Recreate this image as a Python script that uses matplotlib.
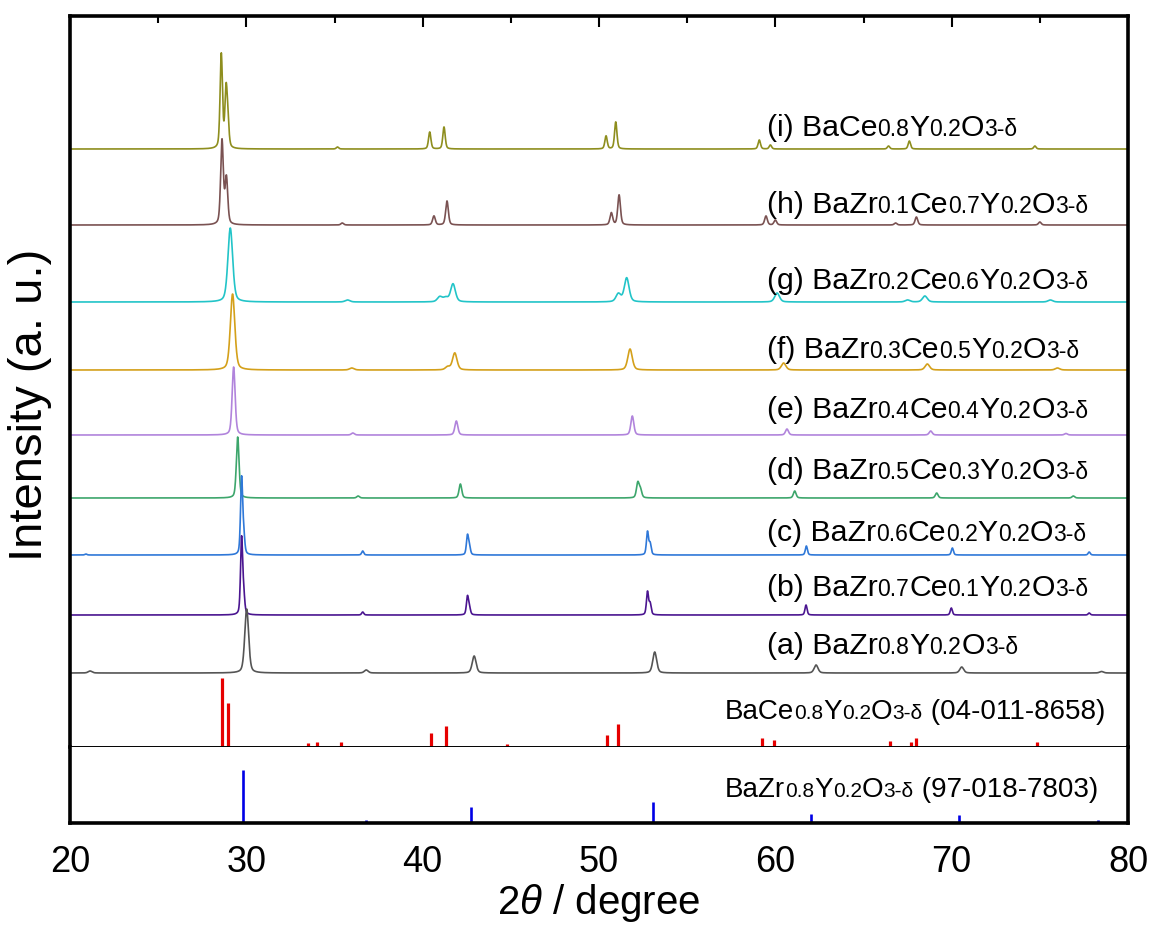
import numpy as np
import matplotlib
matplotlib.use('Agg')
import matplotlib.pyplot as plt
from matplotlib.offsetbox import TextArea, HPacker, AnnotationBbox

plt.rcParams['font.family'] = ['Liberation Sans', 'DejaVu Sans']
plt.rcParams['mathtext.fontset'] = 'custom'
plt.rcParams['mathtext.it'] = 'Liberation Sans:italic'
plt.rcParams['mathtext.rm'] = 'Liberation Sans'

# sample names, split into (text, small) pieces
sample_labels = [
    [('(i) BaCe', 0), ('0.8', 1), ('Y', 0), ('0.2', 1), ('O', 0), ('3-δ', 1)],
    [('(h) BaZr', 0), ('0.1', 1), ('Ce', 0), ('0.7', 1), ('Y', 0), ('0.2', 1), ('O', 0), ('3-δ', 1)],
    [('(g) BaZr', 0), ('0.2', 1), ('Ce', 0), ('0.6', 1), ('Y', 0), ('0.2', 1), ('O', 0), ('3-δ', 1)],
    [('(f) BaZr', 0), ('0.3', 1), ('Ce', 0), ('0.5', 1), ('Y', 0), ('0.2', 1), ('O', 0), ('3-δ', 1)],
    [('(e) BaZr', 0), ('0.4', 1), ('Ce', 0), ('0.4', 1), ('Y', 0), ('0.2', 1), ('O', 0), ('3-δ', 1)],
    [('(d) BaZr', 0), ('0.5', 1), ('Ce', 0), ('0.3', 1), ('Y', 0), ('0.2', 1), ('O', 0), ('3-δ', 1)],
    [('(c) BaZr', 0), ('0.6', 1), ('Ce', 0), ('0.2', 1), ('Y', 0), ('0.2', 1), ('O', 0), ('3-δ', 1)],
    [('(b) BaZr', 0), ('0.7', 1), ('Ce', 0), ('0.1', 1), ('Y', 0), ('0.2', 1), ('O', 0), ('3-δ', 1)],
    [('(a) BaZr', 0), ('0.8', 1), ('Y', 0), ('0.2', 1), ('O', 0), ('3-δ', 1)],
]
colors = ['#8e8e1e', '#7a5252', '#22c4c8', '#d4a01a', '#b184dc',
          '#3da66c', '#2f78d8', '#4a1590', '#555555']

# peak lists: (2theta, height)
peaks_i = [(28.58, 94), (28.85, 55), (28.95, 22), (35.17, 2), (40.40, 17), (41.21, 22),
           (50.40, 13), (50.95, 27), (59.09, 9), (59.72, 4), (66.42, 3), (67.60, 8), (74.72, 3)]
peaks_h = [(28.62, 84), (28.87, 46), (35.44, 2), (40.64, 9), (41.38, 24), (50.70, 12),
           (51.14, 30), (59.47, 9), (60.0, 5), (66.82, 2), (68.0, 8), (75.0, 3)]
peaks_g = [(29.09, 74), (35.74, 2), (40.97, 5), (41.3, 4), (41.72, 18), (51.1, 8),
           (51.57, 24), (60.1, 9), (67.5, 2), (68.48, 6), (75.6, 2)]
peaks_f = [(29.22, 76), (35.98, 2), (41.42, 3), (41.82, 17), (51.76, 21), (60.47, 7),
           (68.62, 6), (76.0, 2)]
peaks_e = [(29.28, 68), (36.04, 2), (41.91, 14), (51.89, 19), (60.66, 6), (68.81, 4),
           (76.48, 1.5)]
peaks_d = [(29.51, 61), (36.34, 2), (42.14, 14), (52.2, 15), (52.35, 8), (61.1, 7),
           (69.15, 5), (76.9, 2)]
peaks_c = [(20.9, 1), (29.73, 76), (29.85, 18), (36.6, 4), (42.54, 19), (42.65, 8),
           (52.75, 23), (52.9, 11), (61.76, 9), (70.04, 7), (77.8, 3)]
peaks_b = [(29.73, 76), (29.85, 18), (36.6, 3), (42.54, 18), (42.65, 7), (52.75, 23),
           (52.9, 11), (61.74, 10), (69.98, 7), (77.8, 2)]
peaks_a = [(21.14, 2), (30.02, 64), (36.8, 3), (42.92, 17), (53.16, 21), (62.31, 8),
           (70.57, 6), (78.5, 1.5)]
all_peaks = [peaks_i, peaks_h, peaks_g, peaks_f, peaks_e, peaks_d, peaks_c, peaks_b, peaks_a]
hwhm = [0.08, 0.09, 0.16, 0.15, 0.1, 0.09, 0.07, 0.07, 0.13]
offsets = [598, 522, 445, 377, 312, 249, 192, 132, 74]

# reference patterns
bcy_pos = [28.62, 28.94, 33.47, 33.98, 35.38, 40.49, 41.35, 44.76, 50.45, 51.08,
           59.26, 59.92, 66.53, 67.67, 67.95, 74.86]
bcy_int = [69, 44, 4, 5, 5, 14, 21, 3, 12, 23, 9, 7, 6, 5, 9, 5]
bzy_pos = [20.97, 29.83, 36.76, 42.73, 53.04, 62.05, 70.40, 74.38, 78.3]
bzy_int = [1, 53, 3, 16, 21, 9, 8, 1, 3]

tt = np.linspace(20, 80, 6001)

fig = plt.figure(figsize=(11.55, 9.27), dpi=100)
W, H = 1155, 927
ax = fig.add_axes([70 / W, (H - 747) / H, 1058 / W, 731 / H])
ax2 = fig.add_axes([70 / W, (H - 823) / H, 1058 / W, 76 / H], sharex=ax)

for pk, w, off, c in zip(all_peaks, hwhm, offsets, colors):
    y = np.zeros_like(tt)
    for p, h in pk:
        lor = w ** 2 / ((tt - p) ** 2 + w ** 2)
        gau = np.exp(-np.log(2) * ((tt - p) / w) ** 2)
        y += h * (0.4 * lor + 0.6 * gau)
    ax.plot(tt, y + off, color=c, lw=1.2)

ax.vlines(bcy_pos, 0, bcy_int, color='#e60000', lw=2.3)
ax2.vlines(bzy_pos, 0, bzy_int, color='#0000e6', lw=1.9)


def formula_box(parts, big, small):
    areas = []
    for txt, s in parts:
        areas.append(TextArea(txt, textprops=dict(fontsize=small if s else big,
                                                  color='black')))
    return HPacker(children=areas, align='baseline', pad=0, sep=0)


label_base = [135, 212, 288, 357, 417, 478, 540, 595, 653]
for parts, b in zip(sample_labels, label_base):
    box = formula_box(parts, 21.8, 16.5)
    ab = AnnotationBbox(box, (59.5, 747 - b - 7), xycoords='data', box_alignment=(0, 0),
                        frameon=False, pad=0)
    ax.add_artist(ab)

ref_bcy = [('BaCe', 0), ('0.8', 1), ('Y', 0), ('0.2', 1), ('O', 0), ('3-δ', 1),
           (' (04-011-8658)', 0)]
ref_bzy = [('BaZr', 0), ('0.8', 1), ('Y', 0), ('0.2', 1), ('O', 0), ('3-δ', 1),
           (' (97-018-7803)', 0)]
ab = AnnotationBbox(formula_box(ref_bcy, 20, 15), (57.15, 747 - 719 - 6), xycoords='data',
                    box_alignment=(0, 0), frameon=False, pad=0)
ax.add_artist(ab)
ab = AnnotationBbox(formula_box(ref_bzy, 20, 15), (57.15, 823 - 797 - 6), xycoords='data',
                    box_alignment=(0, 0), frameon=False, pad=0)
ax2.add_artist(ab)

ax.set_xlim(20, 80)
ax.set_ylim(0, 731)
ax2.set_ylim(0, 76)

for s in ['top', 'left', 'right']:
    ax.spines[s].set_linewidth(2.6)
ax.spines['bottom'].set_linewidth(1.4)
ax2.spines['top'].set_visible(False)
for s in ['bottom', 'left', 'right']:
    ax2.spines[s].set_linewidth(2.6)

ax.set_xticks(np.arange(20, 81, 10))
ax.set_xticks(np.arange(25, 80, 10), minor=True)
ax.tick_params(axis='x', which='both', direction='in', top=True, bottom=False,
               labelbottom=False, labeltop=False, width=1.5)
ax.tick_params(axis='x', which='major', length=8)
ax.tick_params(axis='x', which='minor', length=5)
ax.set_yticks([])
ax2.set_yticks([])
ax2.tick_params(axis='x', which='both', length=0, pad=16, labelsize=26)
ax2.set_xlabel(r'2$\it{\theta}$ / degree', fontsize=29, labelpad=1)
fig.text(30 / W, (H - 405) / H, 'Intensity (a. u.)', rotation=90, fontsize=34,
         ha='center', va='center')

fig.savefig('out.png', dpi=100)
